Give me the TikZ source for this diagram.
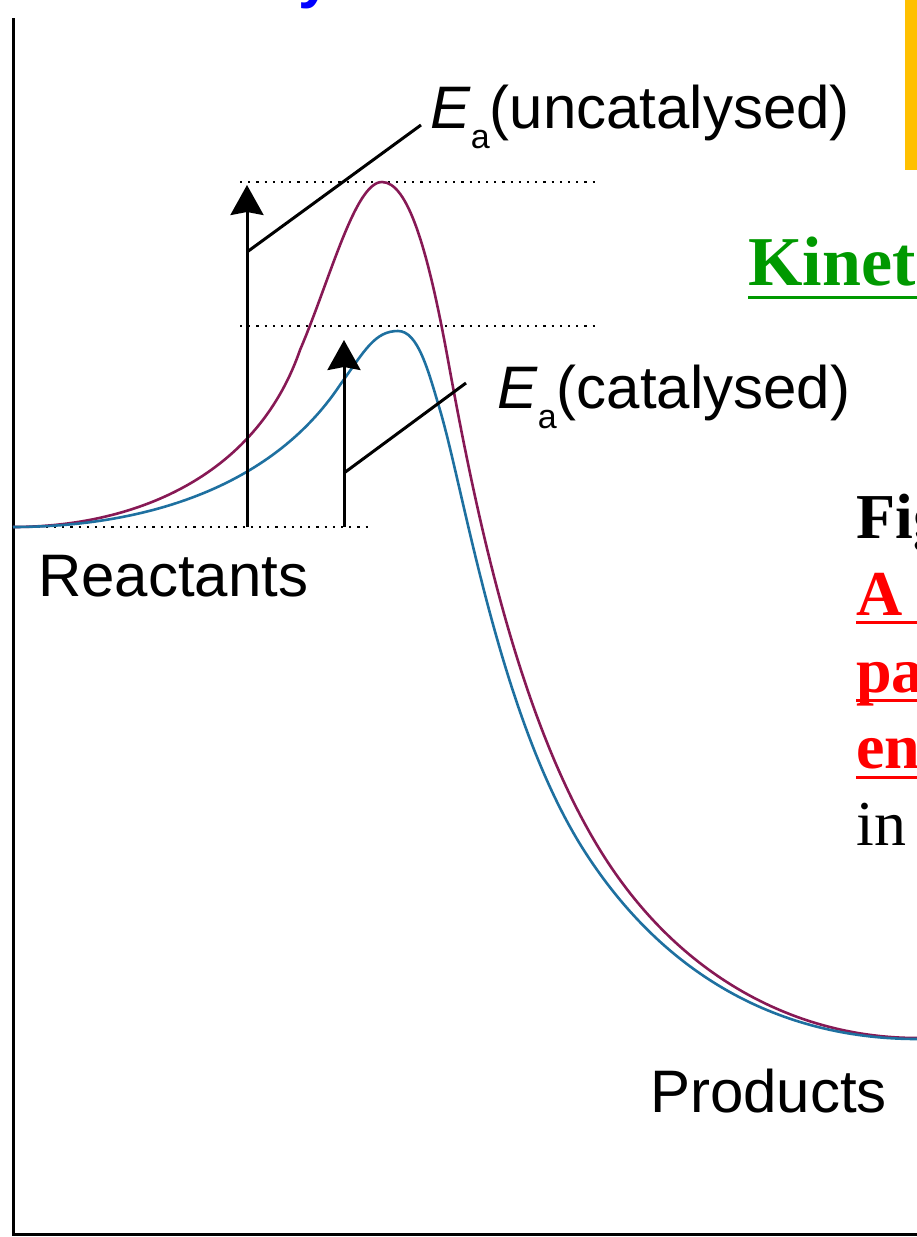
\documentclass[tikz,border=0pt]{standalone}
\usepackage{fontspec}
\setmainfont{Liberation Sans}
\newfontfamily\slidefont{Liberation Serif}
\usetikzlibrary{arrows.meta}
\definecolor{uncat}{RGB}{135,25,85}
\definecolor{cat}{RGB}{30,112,160}
\definecolor{slidegreen}{RGB}{0,153,0}
\definecolor{slideorange}{RGB}{255,192,0}
\newcommand{\labfont}{\fontsize{60}{72}\selectfont}
\newcommand{\capfont}{\slidefont\bfseries\fontsize{64}{77}\selectfont}
\newcommand{\Ea}[1]{\textit{E}\lower20pt\hbox{\fontsize{34}{34}\selectfont a}(#1)}
\tikzset{
  dotlevel/.style={line width=2.2pt, dash pattern=on 2.2pt off 6pt},
  curve/.style={line width=2.6pt},
  barrier/.style={line width=3pt, -{Stealth[length=30pt, width=33pt, inset=3pt]}},
  leader/.style={line width=3pt},
  txt/.style={anchor=base west, inner sep=0pt}
}
\begin{document}
\begin{tikzpicture}[x=1pt,y=-1pt]
\useasboundingbox (0,0) rectangle (917,1237);

\node[txt, anchor=base, text=blue] (title) at (315,-4) {\bfseries\fontsize{60}{60}\selectfont y};
\fill[slideorange] (905,0) rectangle (917,170);

\draw[line width=3pt] (13,18) -- (13,1234) -- (917,1234);

\draw[dotlevel] (13,527) -- (370,527);
\draw[dotlevel] (240,182) -- (600,182);
\draw[dotlevel] (240,326) -- (600,326);

\draw[uncat, curve] (13,527) .. controls (130,527) and (255,480) .. (300,350)
  .. controls (330,280) and (355,182) .. (382,182)
  .. controls (408,182) and (428,250) .. (448,360)
  .. controls (478,525) and (520,720) .. (600,850)
  .. controls (680,980) and (800,1038) .. (917,1038);
\draw[cat, curve] (13,527) .. controls (140,527) and (270,490) .. (340,385)
  .. controls (365,350) and (375,331) .. (398,331)
  .. controls (418,331) and (428,370) .. (440,410)
  .. controls (465,495) and (500,720) .. (585,852)
  .. controls (670,984) and (790,1039) .. (917,1039);

\node[txt] (eaun) at (430,128) {\labfont\Ea{uncatalysed}};
\node[txt] (eacat) at (497,408) {\labfont\Ea{catalysed}};
\node[txt] (reac) at (38,596) {\labfont Reactants};
\node[txt] (prod) at (650,1112) {\labfont Products};

\coordinate (ubase) at (247,527);
\coordinate (utop) at (247,185);
\coordinate (ufoot) at (247,252);
\coordinate (uend) at (421,125);
\coordinate (cbase) at (344,527);
\coordinate (ctop) at (344,340);
\coordinate (cfoot) at (344,473);
\coordinate (cend) at (466,383);

\draw[barrier] (ubase) -- (utop);
\draw[barrier] (cbase) -- (ctop);
\draw[leader] (ufoot) -- (uend);
\draw[leader] (cfoot) -- (cend);

\node[txt, text=slidegreen] (kin) at (748,285) {\slidefont\bfseries\fontsize{70}{80}\selectfont Kinet};
\draw[slidegreen, line width=3pt] (748,297) -- (917,297);

\node[txt] (fig) at (856,538) {\capfont Fig};
\node[txt, text=red] (capa) at (856,615) {\capfont A c};
\node[txt, text=red] (capb) at (856,692) {\capfont pa};
\node[txt, text=red] (capc) at (856,768) {\capfont en};
\node[txt] (capd) at (856,845) {\slidefont\fontsize{64}{77}\selectfont in};
\draw[red, line width=3pt] (856,622) -- (917,622);
\draw[red, line width=3pt] (856,700) -- (917,700);
\draw[red, line width=3pt] (856,777) -- (917,777);
\end{tikzpicture}
\end{document}
